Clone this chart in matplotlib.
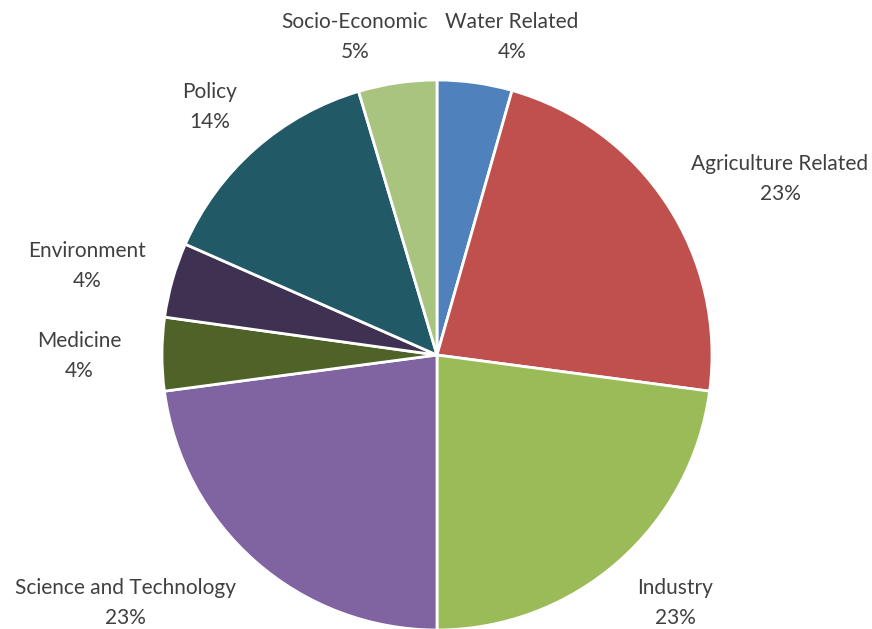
import matplotlib
matplotlib.use("Agg")
import matplotlib.pyplot as plt

categories = ["Water Related", "Agriculture Related", "Industry", "Science and Technology",
              "Medicine", "Environment", "Policy", "Socio-Economic"]
values = [4.4, 22.7, 22.9, 22.9, 4.3, 4.4, 13.8, 4.6]
colors = ["#4F81BD", "#C0504D", "#9BBB59", "#8064A2", "#4F6228", "#3F3151", "#215967", "#A9C47F"]

# label anchor positions in pixel coords (x, y from top)
label_pos = [(512, 37), (780, 179), (675, 603), (125, 603),
             (79, 356), (87, 266), (210, 107), (355, 37)]

W, H = 872, 629
fig = plt.figure(figsize=(W / 100, H / 100), dpi=100)
ax = fig.add_axes([0, 0, 1, 1])

cx, cy, r = 437, H - 355, 275
ax.pie(values, colors=colors, startangle=90, counterclock=False,
       center=(cx, cy), radius=r, frame=True,
       wedgeprops=dict(edgecolor="white", linewidth=2.0))
ax.set_xlim(0, W)
ax.set_ylim(0, H)
ax.set_aspect("auto")
ax.axis("off")

total = sum(values)
for name, v, (x, y) in zip(categories, values, label_pos):
    ax.text(x, H - y, f"{name}\n{round(100 * v / total)}%", ha="center", va="center",
            fontsize=15, color="#404040", family=["Lato", "DejaVu Sans"],
            linespacing=1.6)

fig.savefig("out.png", dpi=100)
